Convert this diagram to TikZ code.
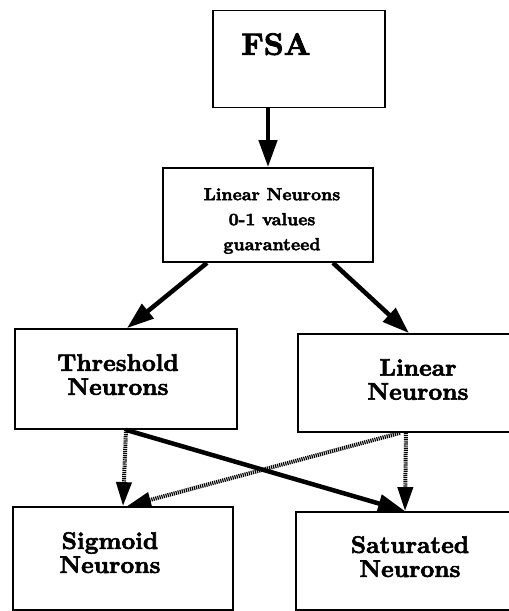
\documentclass[tikz,border=0pt]{standalone}
\usepackage{fontspec}
\newfontfamily\heavy{lmroman10-bold.otf}[FakeBold=2.5]
\usetikzlibrary{arrows.meta}
\begin{document}
\begin{tikzpicture}[x=1pt,y=-1pt,
  box/.style={draw, line width=1.8pt, inner sep=0pt},
  txt/.style={anchor=north, inner sep=0pt, align=center},
  solidarrow/.style={line width=4.5pt, -{Triangle[length=27pt,width=18pt]}},
  dotarrow/.style={line width=4pt, dash pattern=on 1.2pt off 0.9pt, -{Triangle[length=24pt,width=15pt]}}]
\useasboundingbox (0,0) rectangle (509,611);
\clip (0,0) rectangle (509,611);
% boxes
\node[box, minimum width=172pt, minimum height=97pt] (fsa) at (299,59) {};
\node[box, minimum width=210pt, minimum height=94pt] (lin01) at (268,215) {};
\node[box, minimum width=222pt, minimum height=100pt] (thr) at (126,379) {};
\node[box, minimum width=222pt, minimum height=98pt] (lin) at (409,383) {};
\node[box, minimum width=220pt, minimum height=103pt] (sig) at (123,558.5) {};
\node[box, minimum width=224pt, minimum height=98pt] (sat) at (408,561) {};
% texts
\node[txt, font=\fontsize{31}{30}\selectfont\heavy] (fsa-t) at (276,33) {FSA};
\node[txt, font=\fontsize{17.5}{25}\selectfont\heavy] (lin01-t) at (272,188) {Linear Neurons\\0-1 values\\guaranteed};
\node[txt, font=\fontsize{24}{24}\selectfont\heavy] (thr-t) at (118,354) {Threshold\\Neurons};
\node[txt, font=\fontsize{24}{24}\selectfont\heavy] (lin-t) at (418,359) {Linear\\Neurons};
\node[txt, font=\fontsize{24}{24}\selectfont\heavy] (sig-t) at (110,532) {Sigmoid\\Neurons};
\node[txt, font=\fontsize{24}{24}\selectfont\heavy] (sat-t) at (410,536) {Saturated\\Neurons};
% connectors
\draw[solidarrow] (fsa.south -| lin01.north) -- (lin01.north);
\draw[solidarrow] ([xshift=-61pt]lin01.south) -- ([xshift=1pt]thr.north);
\draw[solidarrow] ([xshift=65pt]lin01.south) -- (lin.north);
\draw[solidarrow] (thr.south) -- ([xshift=-3pt]sat.north);
\draw[dotarrow] (thr.south) -- (sig.north);
\draw[dotarrow] ([xshift=-3pt]lin.south) -- ([xshift=-3pt]sat.north);
\draw[dotarrow] ([xshift=-9pt]lin.south) -- ([xshift=4pt]sig.north);
\end{tikzpicture}
\end{document}
